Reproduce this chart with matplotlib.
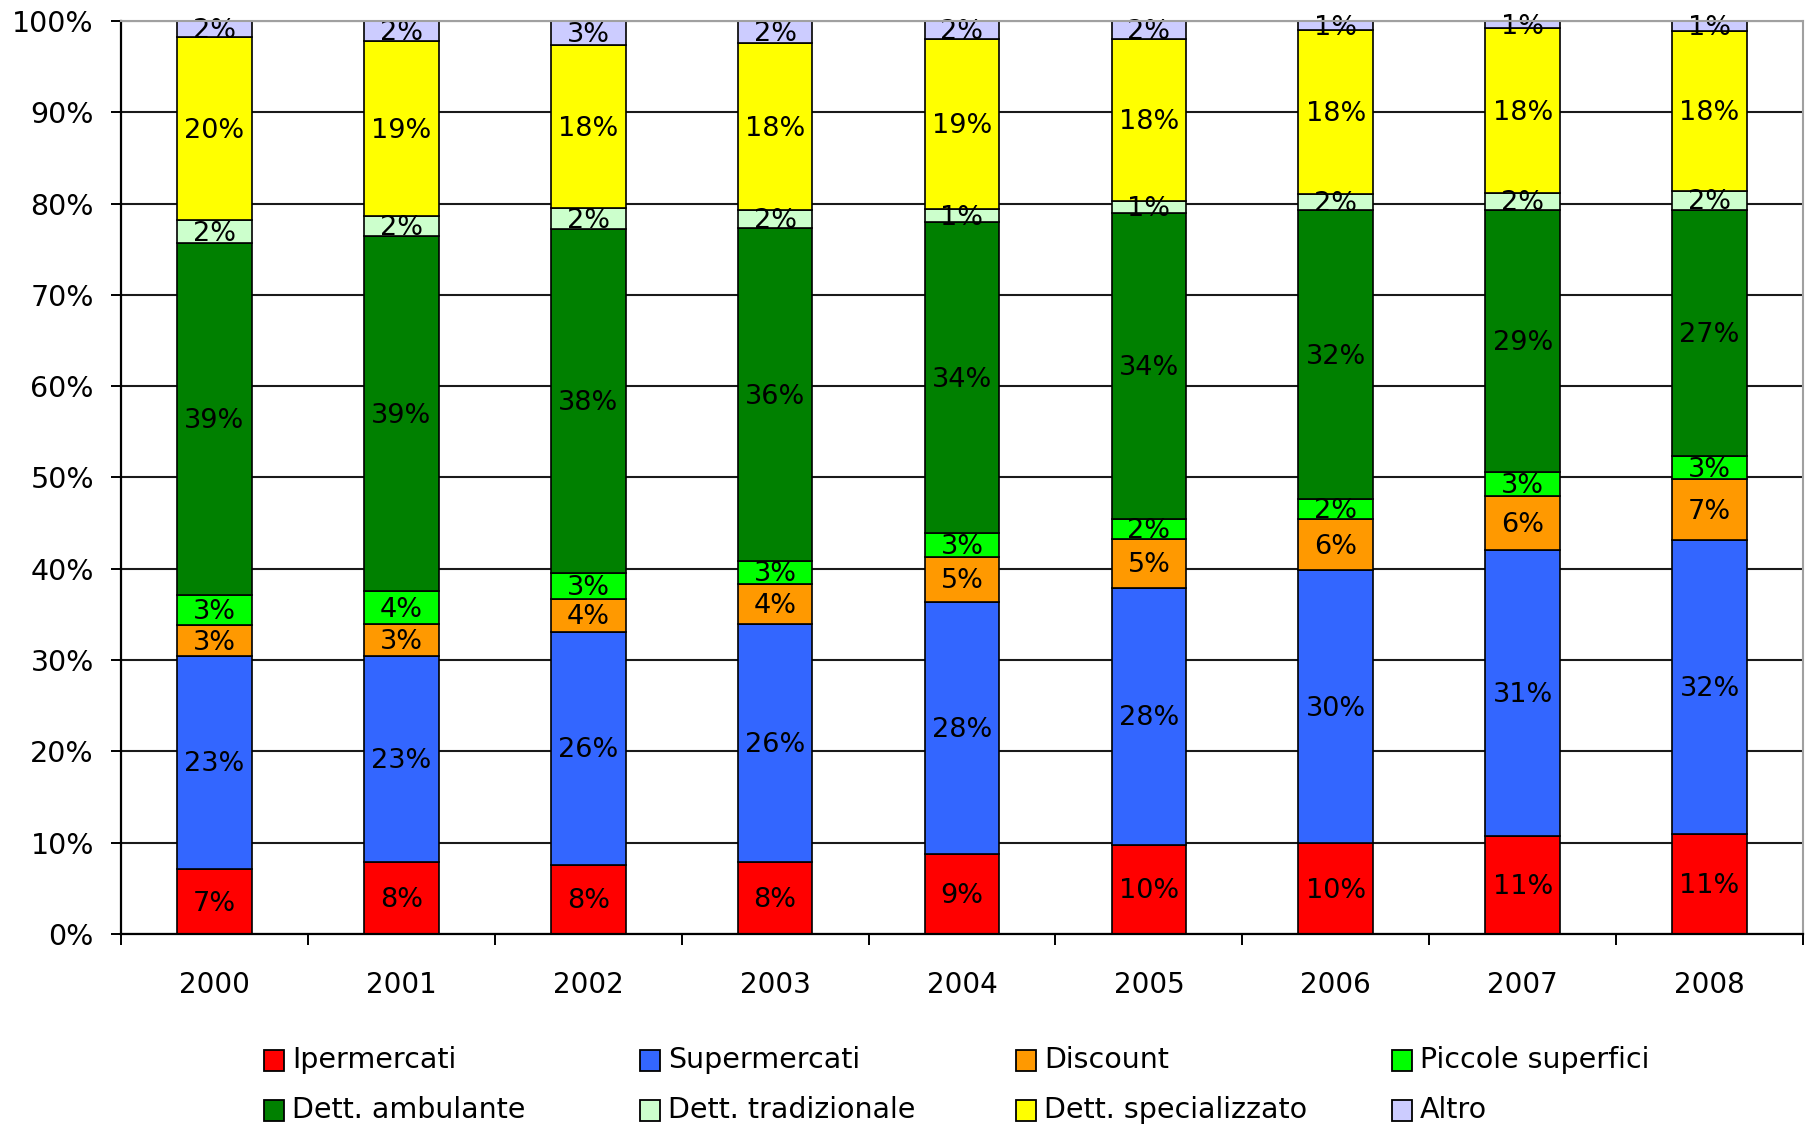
import matplotlib
matplotlib.use("Agg")
import matplotlib.pyplot as plt
from matplotlib.patches import Rectangle
import numpy as np

plt.rcParams['font.family'] = ['DejaVu Sans']

years = ["2000", "2001", "2002", "2003", "2004", "2005", "2006", "2007", "2008"]
series_names = ["Ipermercati", "Supermercati", "Discount", "Piccole superfici",
                "Dett. ambulante", "Dett. tradizionale", "Dett. specializzato", "Altro"]

ipermercati       = [7.1, 7.9, 7.6, 7.9, 8.8, 9.8, 9.95, 10.7, 11.0]
supermercati      = [23.4, 22.6, 25.5, 26.0, 27.6, 28.1, 29.9, 31.4, 32.2]
discount          = [3.3, 3.45, 3.6, 4.45, 4.9, 5.4, 5.6, 5.9, 6.6]
piccole_superfici = [3.3, 3.6, 2.8, 2.55, 2.65, 2.1, 2.15, 2.6, 2.6]
dett_ambulante    = [38.6, 38.9, 37.7, 36.4, 34.0, 33.6, 31.7, 28.7, 26.9]
dett_tradizionale = [2.45, 2.15, 2.35, 1.95, 1.45, 1.25, 1.75, 1.9, 2.1]
dett_specializz   = [20.1, 19.2, 17.8, 18.3, 18.6, 17.75, 17.95, 18.0, 17.55]
altro             = [1.75, 2.2, 2.65, 2.45, 2.0, 2.0, 1.0, 0.8, 1.05]

series = [ipermercati, supermercati, discount, piccole_superfici,
          dett_ambulante, dett_tradizionale, dett_specializz, altro]
colors = ["#FF0000", "#3366FF", "#FF9900", "#00FF00",
          "#008000", "#CCFFCC", "#FFFF00", "#CCCCFF"]

W, H = 1808, 1127
fig = plt.figure(figsize=(W / 100, H / 100), dpi=100)
ax = fig.add_axes([121 / W, 1 - 934 / H, (1803 - 121) / W, (934 - 21) / H])

x = np.arange(len(years))
data = np.array(series, dtype=float)
totals = data.sum(axis=0)
pct = data / totals * 100.0

bottom = np.zeros(len(years))
for vals, raw, col in zip(pct, data, colors):
    ax.bar(x, vals, width=0.4, bottom=bottom, color=col, edgecolor="black",
           linewidth=1.2, zorder=3)
    for xi, b, v, r in zip(x, bottom, vals, raw):
        ax.annotate(f"{round(r)}%", (xi, b + v / 2), xytext=(0, -1.5),
                    textcoords="offset points", ha="center", va="center",
                    fontsize=19.5, color="black", zorder=4)
    bottom += vals

ax.set_xlim(-0.5, len(years) - 0.5)
ax.set_ylim(0, 100)
ax.set_yticks(np.arange(0, 101, 10))
ax.set_yticklabels([f"{v}%" for v in range(0, 101, 10)], fontsize=20.5)
ax.tick_params(axis="y", direction="out", length=7.5, width=1.4, pad=12)

ax.set_xticks(x)
ax.set_xticklabels(years, fontsize=20)
ax.set_xticks(np.arange(-0.5, len(years), 1.0), minor=True)
ax.tick_params(axis="x", which="major", length=0, pad=26.5)
ax.tick_params(axis="x", which="minor", direction="out", length=8, width=1.4)

ax.yaxis.grid(True, color="#1a1a1a", linewidth=1.5, zorder=1)
ax.set_axisbelow(True)

for s in ["left", "bottom"]:
    ax.spines[s].set_color("black")
    ax.spines[s].set_linewidth(1.6)
    ax.spines[s].set_zorder(5)
for s in ["top", "right"]:
    ax.spines[s].set_color("#A0A0A0")
    ax.spines[s].set_linewidth(1.5)
    ax.spines[s].set_zorder(5)

# legend (manual, Excel-like evenly spaced columns)
col_x = [264, 640, 1016, 1392]
row_y = [1060, 1110]
for i, (name, col) in enumerate(zip(series_names, colors)):
    cx = col_x[i % 4]
    cy = row_y[i // 4]
    rw, rh = 20, 21
    fig.patches.append(Rectangle((cx / W, 1 - (cy + rh / 2) / H), rw / W, rh / H,
                                 facecolor=col, edgecolor="black", linewidth=1.3,
                                 transform=fig.transFigure, figure=fig))
    fig.text((cx + 28) / W, 1 - cy / H, name, ha="left", va="center",
             fontsize=20.5, color="black")

fig.savefig("out.png", dpi=100, facecolor="white")
